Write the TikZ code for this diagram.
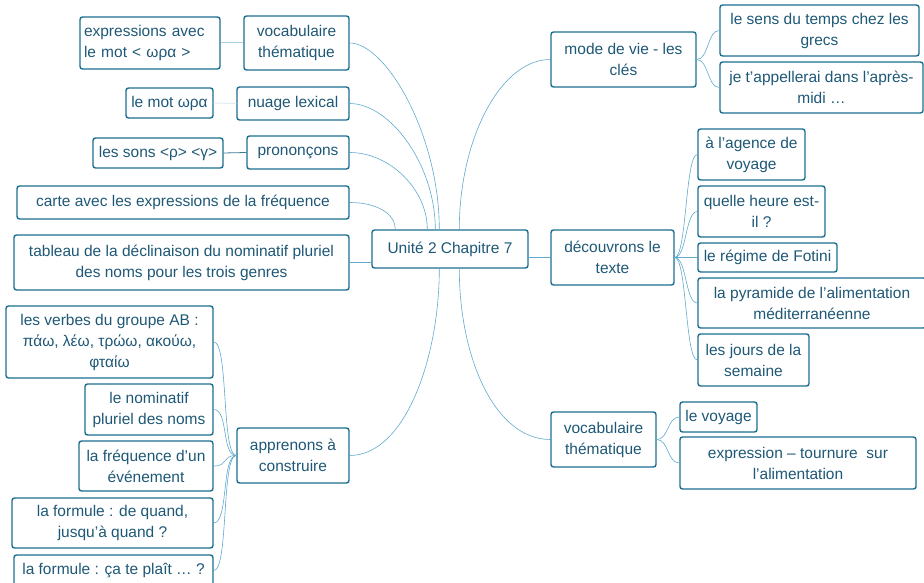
\documentclass[tikz,border=0pt]{standalone}
\usepackage{fontspec}
\setmainfont{Liberation Sans}
\usetikzlibrary{calc}
\definecolor{boxc}{RGB}{26,110,145}
\definecolor{txtc}{RGB}{30,88,118}
\definecolor{linc}{RGB}{95,170,205}
\definecolor{linl}{RGB}{165,208,228}
\definecolor{linf}{RGB}{222,236,243}
\definecolor{lind}{RGB}{60,125,150}
\newcommand\mbx[7][]{%
  \pgfmathsetmacro\mybw{#5-#3}%
  \pgfmathsetmacro\mybh{#6-#4}%
  \pgfmathsetmacro\mybcx{(#3+#5)/2}%
  \pgfmathsetmacro\mybcy{(#4+#6)/2}%
  \node[bx,minimum width=\mybw pt,minimum height=\mybh pt,#1] (#2) at (\mybcx,\mybcy) {#7};}
\begin{document}
\begin{tikzpicture}[x=1pt,y=-1pt,
  bx/.style={draw=boxc,line width=1.4pt,rounded corners=2.5pt,inner sep=0pt,
    align=center,text=txtc,font=\fontsize{15.5pt}{21pt}\selectfont},
  con/.style={draw=linc,line width=0.6pt}]
\useasboundingbox (0,0) rectangle (924,583);
% centre
\mbx{c}{372}{230}{528}{268}{Unité 2 Chapitre 7}
% left branch
\mbx[text width=132pt,align=left]{expr}{80}{17}{220}{69}{expressions avec\\le mot < ωρα >}
\mbx{vocL}{244}{16}{349}{70}{vocabulaire\\thématique}
\mbx{motw}{126}{88}{213}{118}{le mot ωρα}
\mbx{nuage}{237}{87}{349}{120}{nuage lexical}
\mbx{sons}{93}{138}{223}{168}{les sons <ρ> <γ>}
\mbx{pron}{247}{136}{349}{169}{prononçons}
\mbx{carte}{17}{186}{349}{219}{carte avec les expressions de la fréquence}
\mbx{tab}{14}{235}{349}{290}{tableau de la déclinaison du nominatif pluriel\\des noms pour les trois genres}
\mbx{verbes}{6}{306}{213}{378}{les verbes du groupe AB :\\πάω, λέω, τρώω, ακούω,\\φταίω}
\mbx{nomin}{85}{384}{213}{435}{le nominatif\\pluriel des noms}
\mbx{freq}{79}{441}{213}{491}{la fréquence d'un\\événement}
\mbx{form1}{12}{498}{213}{548}{la formule : de quand,\\jusqu’à quand ?}
\mbx{form2}{14}{555}{213}{586}{la formule : ça te plaît … ?}
\mbx{appr}{237}{428}{349}{483}{apprenons à\\construire}
% right branch
\mbx{mode}{551}{32}{696}{87}{mode de vie - les\\clés}
\mbx{sens}{720}{5}{919}{56}{le sens du temps chez les\\grecs}
\mbx{appel}{720}{62}{923}{113}{je t’appellerai dans l’après-\\midi …}
\mbx{dec}{551}{230}{674}{285}{découvrons le\\texte}
\mbx{agence}{698}{129}{805}{180}{à l'agence de\\voyage}
\mbx{quelle}{698}{186}{825}{237}{quelle heure est-\\il ?}
\mbx{regime}{698}{243}{837}{272}{le régime de Fotini}
\mbx{pyr}{698}{278}{926}{328}{la pyramide de l’alimentation\\méditerranéenne}
\mbx{jours}{698}{334}{809}{386}{les jours de la\\semaine}
\mbx{vocR}{551}{412}{656}{467}{vocabulaire\\thématique}
\mbx{voyage}{680}{402}{757}{432}{le voyage}
\mbx{exprR}{680}{437}{916}{489}{expression – tournure\ \ sur\\l’alimentation}
% connectors: centre to first level
\draw[con] (vocL.east) .. controls +(36,0) and +(0,-95) .. ([xshift=68pt]c.north west);
\draw[con] (nuage.east) .. controls +(40,0) and +(0,-65) .. ([xshift=64pt]c.north west);
\draw[con] (pron.east) .. controls +(40,0) and +(0,-40) .. ([xshift=56pt]c.north west);
\draw[con] (carte.east) .. controls +(28,0) and +(0,-15) .. ([xshift=24pt]c.north west);
\draw[con] (tab.east) -- (tab.east -| c.west);
\draw[con] (appr.east) .. controls +(55,0) and +(0,90) .. ([xshift=68pt]c.south west);
\draw[con] (mode.west) .. controls +(-50,0) and +(0,-90) .. ([xshift=88pt]c.north west);
\draw[con] (dec.west) -- (dec.west -| c.east);
\draw[con] (vocR.west) .. controls +(-55,0) and +(0,90) .. ([xshift=88pt]c.south west);
% left children
\draw[draw=linl,line width=1pt] (vocL.west) -- (expr.east);
\draw[draw=linf,line width=1pt] (nuage.west) -- (motw.east);
\draw[draw=lind,line width=0.8pt] (pron.west) -- (sons.east);
\foreach \ch in {verbes,nomin,freq,form1,form2}
  \draw[con] (appr.west) .. controls +(-15,0) and +(15,0) .. (\ch.east);
% right children
\foreach \ch in {sens,appel}
  \draw[con] (mode.east) .. controls +(12,0) and +(-12,0) .. (\ch.west);
\foreach \ch in {agence,quelle,regime,pyr,jours}
  \draw[con] (dec.east) .. controls +(12,0) and +(-12,0) .. (\ch.west);
\foreach \ch in {voyage,exprR}
  \draw[con] (vocR.east) .. controls +(12,0) and +(-12,0) .. (\ch.west);
\end{tikzpicture}
\end{document}
